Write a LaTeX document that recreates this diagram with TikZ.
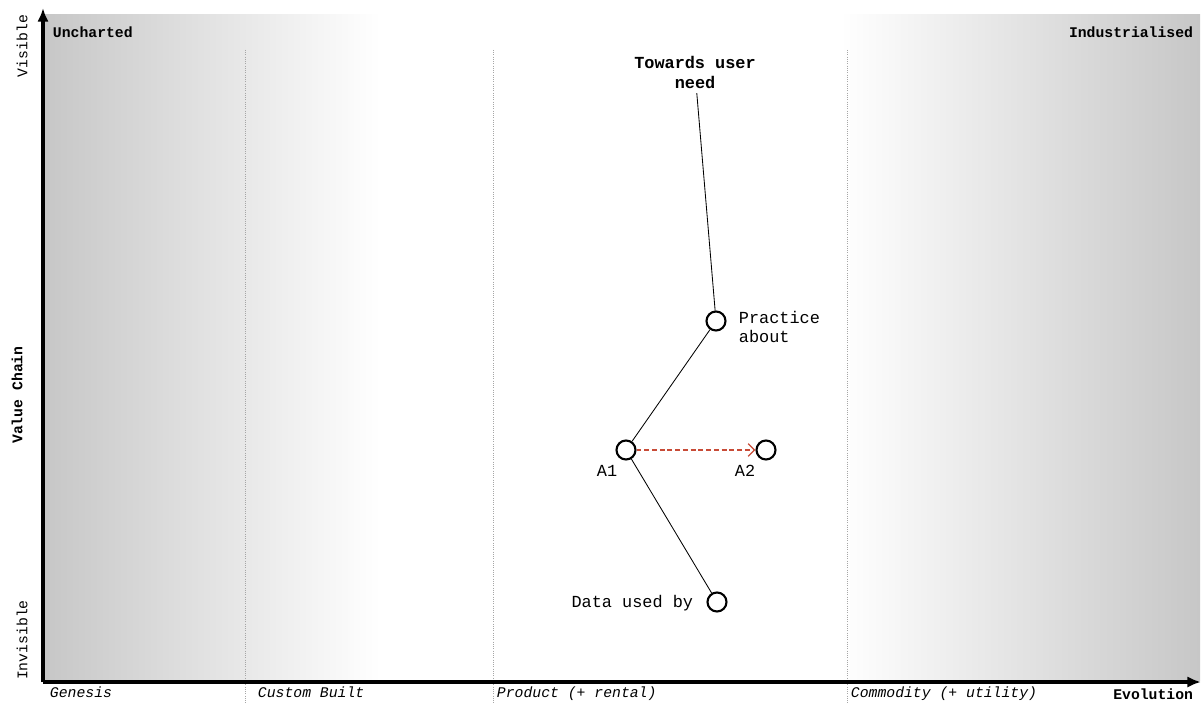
\documentclass[tikz,border=0pt]{standalone}
\usepackage{fontspec}
\setmonofont{Liberation Mono}
\usetikzlibrary{arrows.meta,positioning}
\definecolor{movered}{RGB}{200,75,55}

\begin{document}
\begin{tikzpicture}[x=0.025cm,y=-0.025cm,font=\ttfamily,comp/.style={circle,draw=black,line width=1.5pt,fill=white,minimum size=13.5pt,inner sep=0pt},lbl/.style={font=\ttfamily\fontsize{12}{13.5}\selectfont,align=left},stage/.style={font=\ttfamily\itshape\fontsize{10.5}{12}\selectfont,anchor=base west},hdr/.style={font=\ttfamily\bfseries\fontsize{10.5}{14}\selectfont},side/.style={font=\ttfamily\fontsize{10.5}{12}\selectfont,rotate=90},axis/.style={-{Latex[length=3.4mm,width=2.8mm]},line width=2.4pt},dep/.style={line width=0.6pt},sep/.style={densely dotted,black!35,line width=0.6pt}]
\useasboundingbox (0,0) rectangle (1202,703);
\shade[left color=black!22,right color=white] (45,15) rectangle (380,680);
\shade[left color=white,right color=black!22] (840,15) rectangle (1200,680);
\draw[sep] (245,50)--(245,703);\draw[sep] (493,50)--(493,703);\draw[sep] (847,50)--(847,703);
\coordinate (orig) at (43,682);
\draw[axis] (orig)--(43,8);\draw[axis] (orig)--(1201,682);
\node[hdr,anchor=west] (unch) at (48,32) {Uncharted};
\node[hdr,anchor=east] (ind) at (1198,32) {Industrialised};
\node[side] (vis) at (22,46) {Visible};
\node[side,font=\ttfamily\bfseries\fontsize{10.5}{12}\selectfont] (vchain) at (17,395) {Value Chain};
\node[side] (invis) at (22,640) {Invisible};
\node[stage] (gen) at (45,697) {Genesis};
\node[stage] (cust) at (253,697) {Custom Built};
\node[stage] (prod) at (492,697) {Product (+ rental)};
\node[stage] (commod) at (846,697) {Commodity (+ utility)};
\node[hdr,anchor=base east] (evo) at (1198,699) {Evolution};
\node[hdr,font=\ttfamily\bfseries\fontsize{12}{14.2}\selectfont,align=center] (user) at (695,72) {Towards user\\need};
\node[comp] (prac) at (716,321) {};
\node[comp] (a1) at (626,450) {};
\node[comp] (a2) at (766,450) {};
\node[comp] (data) at (717,602) {};
\node[lbl,anchor=west] (pracl) at (734,327) {Practice\\about};
\node[lbl] (a1l) at (607,471) {A1};
\node[lbl] (a2l) at (745,471) {A2};
\node[lbl,anchor=east] (datal) at (698,603) {Data used by};
\draw[dep] (user)--(prac);\draw[dep] (prac)--(a1);\draw[dep] (a1)--(data);
\draw[movered,line width=0.9pt,dash pattern=on 3.5pt off 2pt,-{Straight Barb[length=1.6mm]}] (a1)--(a2);
\end{tikzpicture}
\end{document}
